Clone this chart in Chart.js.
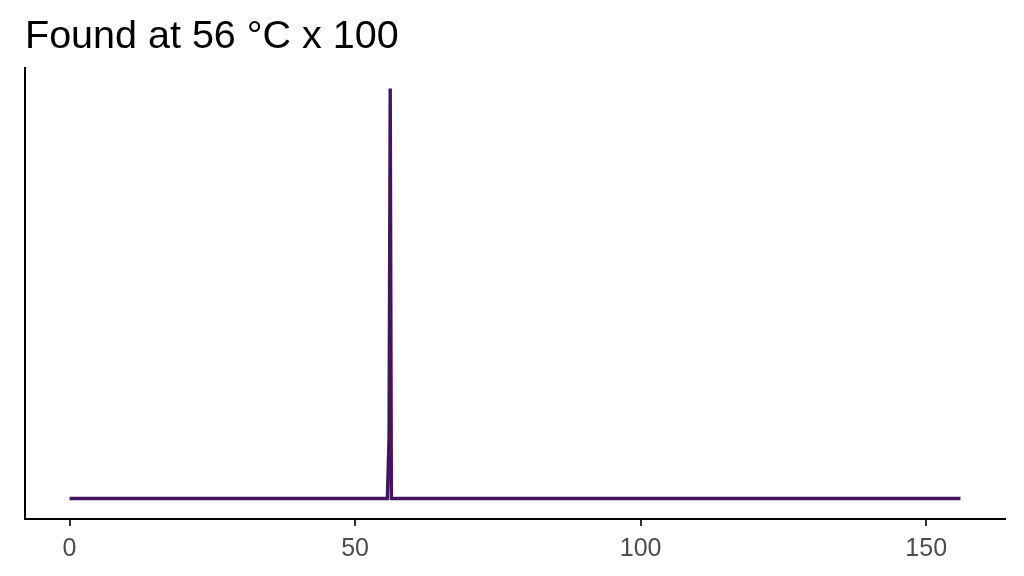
<!DOCTYPE html>
<html>
<head>
<meta charset="utf-8">
<script src="https://cdn.jsdelivr.net/npm/chart.js@4/dist/chart.umd.min.js"></script>
<style>
  html, body { margin: 0; padding: 0; background: #ffffff; }
  #wrap { width: 1024px; height: 576px; }
</style>
</head>
<body>
<div id="wrap"><canvas id="c" width="1024" height="576"></canvas></div>
<script>
const titleText = "Found at 56 °C x 100";
const xValues = [0, 55.65, 55.95, 56.15, 56.35, 156];
const yValues = [0, 0, 0.15, 1, 0, 0];
const xTicks = [0, 50, 100, 150];
const lineColor = "#47125F";

const points = xValues.map((x, i) => ({ x: x, y: yValues[i] }));

new Chart(document.getElementById("c"), {
  type: "line",
  data: {
    datasets: [{
      data: points,
      borderColor: lineColor,
      borderWidth: 3.4,
      pointRadius: 0,
      tension: 0,
      fill: false,
      borderCapStyle: "butt",
      borderJoinStyle: "miter"
    }]
  },
  options: {
    responsive: false,
    animation: false,
    devicePixelRatio: 1,
    layout: { padding: { left: 25, right: 19, top: 0, bottom: 0 } },
    plugins: {
      legend: { display: false },
      tooltip: { enabled: false },
      title: {
        display: true,
        text: titleText,
        align: "start",
        color: "#000000",
        font: { family: "Liberation Sans, Arial, sans-serif", size: 39.5, weight: "normal", lineHeight: 1.2 },
        padding: { top: 13, bottom: 7.6 }
      }
    },
    scales: {
      x: {
        type: "linear",
        min: -7.8,
        max: 163.8,
        afterBuildTicks: (scale) => { scale.ticks = xTicks.map(v => ({ value: v })); },
        afterFit: (scale) => { scale.height = 57; },
        grid: {
          display: true,
          drawOnChartArea: false,
          drawTicks: true,
          tickLength: 7,
          color: "#333333",
          lineWidth: 2
        },
        border: { display: true, color: "#000000", width: 2 },
        ticks: {
          color: "#4D4D4D",
          padding: 8,
          maxRotation: 0,
          font: { family: "Liberation Sans, Arial, sans-serif", size: 25 }
        }
      },
      y: {
        type: "linear",
        min: -0.05,
        max: 1.05,
        afterFit: (scale) => { scale.width = 0; },
        grid: { display: false },
        border: { display: true, color: "#000000", width: 2 },
        ticks: { display: false }
      }
    }
  }
});
</script>
</body>
</html>
